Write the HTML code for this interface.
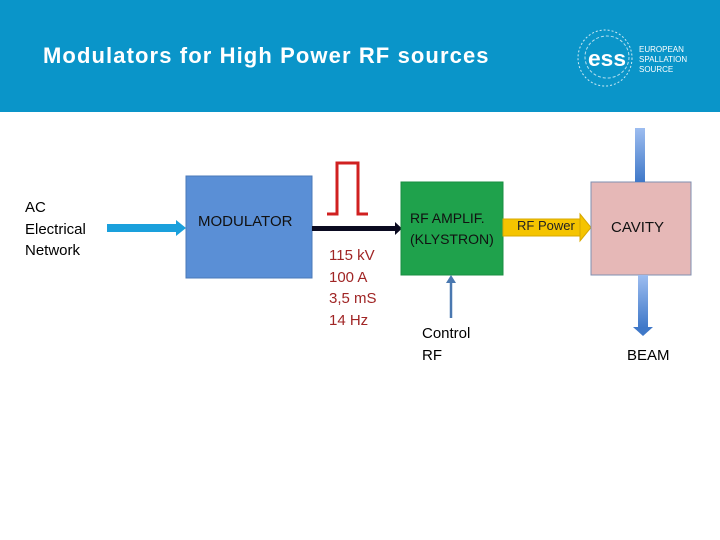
<!DOCTYPE html>
<html><head><meta charset="utf-8"><style>
body{margin:0;width:720px;height:540px;overflow:hidden;background:#fff;font-family:"Liberation Sans",sans-serif;position:relative}
.t{position:absolute;white-space:nowrap}
</style></head><body>
<div style="position:absolute;left:0;top:0;width:720px;height:112px;background:#0A95C9"></div>
<div class="t" style="left:43px;top:43px;font-size:22px;color:#fff;font-weight:bold;letter-spacing:1.1px">Modulators for High Power RF sources</div>
<svg width="720" height="540" style="position:absolute;left:0;top:0">
<defs>
<linearGradient id="g1" x1="0" y1="0" x2="0" y2="1"><stop offset="0" stop-color="#9dbdf0"/><stop offset="1" stop-color="#3f78c8"/></linearGradient>
</defs>
<ellipse cx="605" cy="58" rx="27" ry="28" fill="none" stroke="#fff" stroke-width="1" stroke-dasharray="2 2" opacity="0.8"/>
<ellipse cx="607" cy="57" rx="22" ry="21" fill="none" stroke="#fff" stroke-width="1" stroke-dasharray="3 2" opacity="0.7"/>
<text x="588" y="66" font-size="22" font-weight="bold" fill="#fff" font-family="Liberation Sans" textLength="38" lengthAdjust="spacingAndGlyphs">ess</text>
<text x="639" y="52" font-size="8" fill="#fff" font-family="Liberation Sans">EUROPEAN</text>
<text x="639" y="62" font-size="8" fill="#fff" font-family="Liberation Sans">SPALLATION</text>
<text x="639" y="72" font-size="8" fill="#fff" font-family="Liberation Sans">SOURCE</text>
<rect x="107" y="224" width="70" height="8" fill="#1aa0dc"/>
<polygon points="176,220 186,228 176,236" fill="#1aa0dc"/>
<rect x="186" y="176" width="126" height="102" fill="#5a8fd6" stroke="#4a78b8"/>
<rect x="312" y="226" width="84" height="5" fill="#0a0a20"/>
<polygon points="395,222 402,228.5 395,235" fill="#0a0a20"/>
<polyline points="327,214 337,214 337,163 358,163 358,214 368,214" fill="none" stroke="#d02020" stroke-width="3"/>
<rect x="401" y="182" width="102" height="93" fill="#1fa24c" stroke="#1a8f42"/>
<line x1="451" y1="318" x2="451" y2="280" stroke="#4a78b0" stroke-width="2.5"/>
<polygon points="446,283 451,275 456,283" fill="#4a78b0"/>
<rect x="503" y="219" width="77" height="17" fill="#f5c400" stroke="#d8a800"/>
<polygon points="580,214 591,227.5 580,241" fill="#f5c400" stroke="#d8a800"/>
<rect x="591" y="182" width="100" height="93" fill="#e6b8b7" stroke="#7f8fb0"/>
<rect x="635" y="128" width="10" height="54" fill="url(#g1)"/>
<rect x="638" y="275" width="10" height="53" fill="url(#g1)"/>
<polygon points="633,327 653,327 643,336" fill="#3f78c8"/>
</svg>
<div class="t" style="left:25px;top:197px;font-size:15px;line-height:21.5px;color:#000">AC<br>Electrical<br>Network</div>
<div class="t" style="left:198px;top:213px;font-size:15px;color:#111">MODULATOR</div>
<div class="t" style="left:329px;top:245px;font-size:15px;line-height:21.5px;color:#a02525">115 kV<br>100 A<br>3,5 mS<br>14 Hz</div>
<div class="t" style="left:410px;top:208px;font-size:14px;line-height:21px;color:#111">RF AMPLIF.<br>(KLYSTRON)</div>
<div class="t" style="left:517px;top:218px;font-size:13px;color:#222">RF Power</div>
<div class="t" style="left:611px;top:219px;font-size:15px;color:#111">CAVITY</div>
<div class="t" style="left:422px;top:323px;font-size:15px;line-height:22px;color:#000">Control<br>RF</div>
<div class="t" style="left:627px;top:347px;font-size:15px;color:#000">BEAM</div>
</body></html>
